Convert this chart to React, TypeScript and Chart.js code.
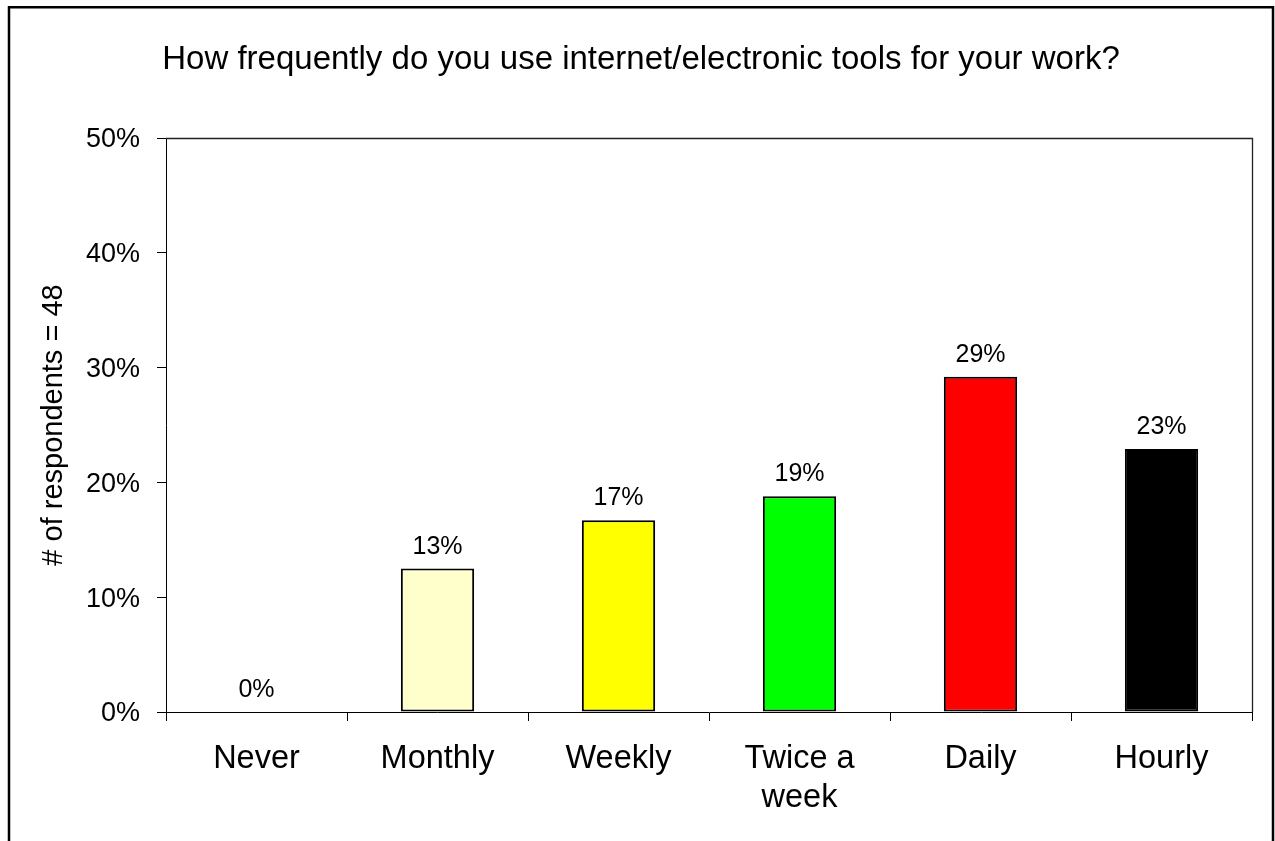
import React, { useEffect, useRef } from "react";
import { Chart, registerables } from "chart.js";

Chart.register(...registerables);

const categories: (string | string[])[] = ["Never", "Monthly", "Weekly", ["Twice a", "week"], "Daily", "Hourly"];
const percentValues: number[] = [0, 12.5, 16.7, 18.8, 29.2, 22.9];
const barColors: string[] = ["#FFFFCC", "#FFFFCC", "#FFFF00", "#00FF00", "#FF0000", "#000000"];
const yTickValues: number[] = [0, 10, 20, 30, 40, 50];
const titleText = "How frequently do you use internet/electronic tools for your work?";
const yAxisTitle = "# of respondents = 48";

const FONT = "'Liberation Sans', Arial, Helvetica, sans-serif";

const framePlugin = {
  id: "frame",
  beforeDraw(chart: any) {
    const ctx = chart.ctx;
    ctx.save();
    ctx.fillStyle = "#ffffff";
    ctx.fillRect(0, 0, chart.width, chart.height);
    ctx.restore();
  },
  afterDraw(chart: any) {
    const ctx = chart.ctx;
    const a = chart.chartArea;
    ctx.save();
    ctx.strokeStyle = "#000";
    ctx.lineWidth = 2.5;
    ctx.strokeRect(9, 7.25, 1264, 1000);
    ctx.lineWidth = 1.3;
    ctx.strokeStyle = "#222";
    ctx.beginPath();
    ctx.moveTo(a.left, a.top + 0.5);
    ctx.lineTo(a.right + 0.5, a.top + 0.5);
    ctx.lineTo(a.right + 0.5, a.bottom);
    ctx.stroke();
    ctx.restore();
  },
};

const labelPlugin = {
  id: "valueLabels",
  afterDatasetsDraw(chart: any) {
    const ctx = chart.ctx;
    const meta = chart.getDatasetMeta(0);
    const data = chart.data.datasets[0].data as number[];
    ctx.save();
    ctx.fillStyle = "#000";
    ctx.font = `25px ${FONT}`;
    ctx.textAlign = "center";
    ctx.textBaseline = "alphabetic";
    meta.data.forEach((el: any, i: number) => {
      const v = data[i];
      ctx.fillText(`${Math.round(v)}%`, el.x, el.y - 15);
    });
    ctx.restore();
  },
};

export default function App() {
  const ref = useRef<HTMLCanvasElement | null>(null);

  useEffect(() => {
    if (!ref.current) return;
    const chart = new Chart(ref.current, {
      type: "bar",
      data: {
        labels: categories,
        datasets: [
          {
            data: percentValues,
            backgroundColor: barColors,
            borderColor: "#000",
            borderWidth: 2,
            borderSkipped: false,
            barPercentage: 0.405,
            categoryPercentage: 1,
          },
        ],
      },
      options: {
        responsive: false,
        animation: false,
        devicePixelRatio: 1,
        layout: { padding: { left: 30, right: 23, top: 0, bottom: 0 } },
        plugins: {
          legend: { display: false },
          tooltip: { enabled: false },
          title: {
            display: true,
            text: titleText,
            color: "#000",
            font: { family: FONT, size: 33, weight: "normal", lineHeight: 1.2 },
            padding: { top: 40, bottom: 58.4 },
          },
        },
        scales: {
          x: {
            type: "category",
            offset: true,
            grid: {
              offset: true,
              drawOnChartArea: false,
              drawTicks: true,
              tickLength: 9,
              color: "#000",
              lineWidth: 1,
            },
            border: { display: true, color: "#000", width: 1 },
            ticks: {
              color: "#000",
              font: { family: FONT, size: 32.5, lineHeight: 1.2 },
              padding: 19,
              maxRotation: 0,
              autoSkip: false,
            },
            afterFit(scale: any) {
              scale.height = 129;
            },
          },
          y: {
            min: 0,
            max: 50,
            afterBuildTicks(scale: any) {
              scale.ticks = yTickValues.map((v) => ({ value: v }));
            },
            grid: {
              drawOnChartArea: false,
              drawTicks: true,
              tickLength: 9,
              color: "#000",
              lineWidth: 1,
            },
            border: { display: true, color: "#000", width: 1 },
            ticks: {
              color: "#000",
              font: { family: FONT, size: 27 },
              padding: 17,
              labelOffset: 2,
              callback: (v: any) => `${v}%`,
            },
            title: {
              display: true,
              text: yAxisTitle,
              color: "#000",
              font: { family: FONT, size: 29, lineHeight: 1.2 },
              padding: { top: 7, bottom: 0 },
            },
            afterFit(scale: any) {
              scale.width = 136;
            },
          },
        },
      },
      plugins: [framePlugin, labelPlugin],
    });
    return () => chart.destroy();
  }, []);

  return (
    <div style={{ position: "fixed", left: 0, top: 0, width: 1275, height: 841, background: "#fff" }}>
      <canvas ref={ref} width={1275} height={841} style={{ width: 1275, height: 841, display: "block" }} />
    </div>
  );
}
